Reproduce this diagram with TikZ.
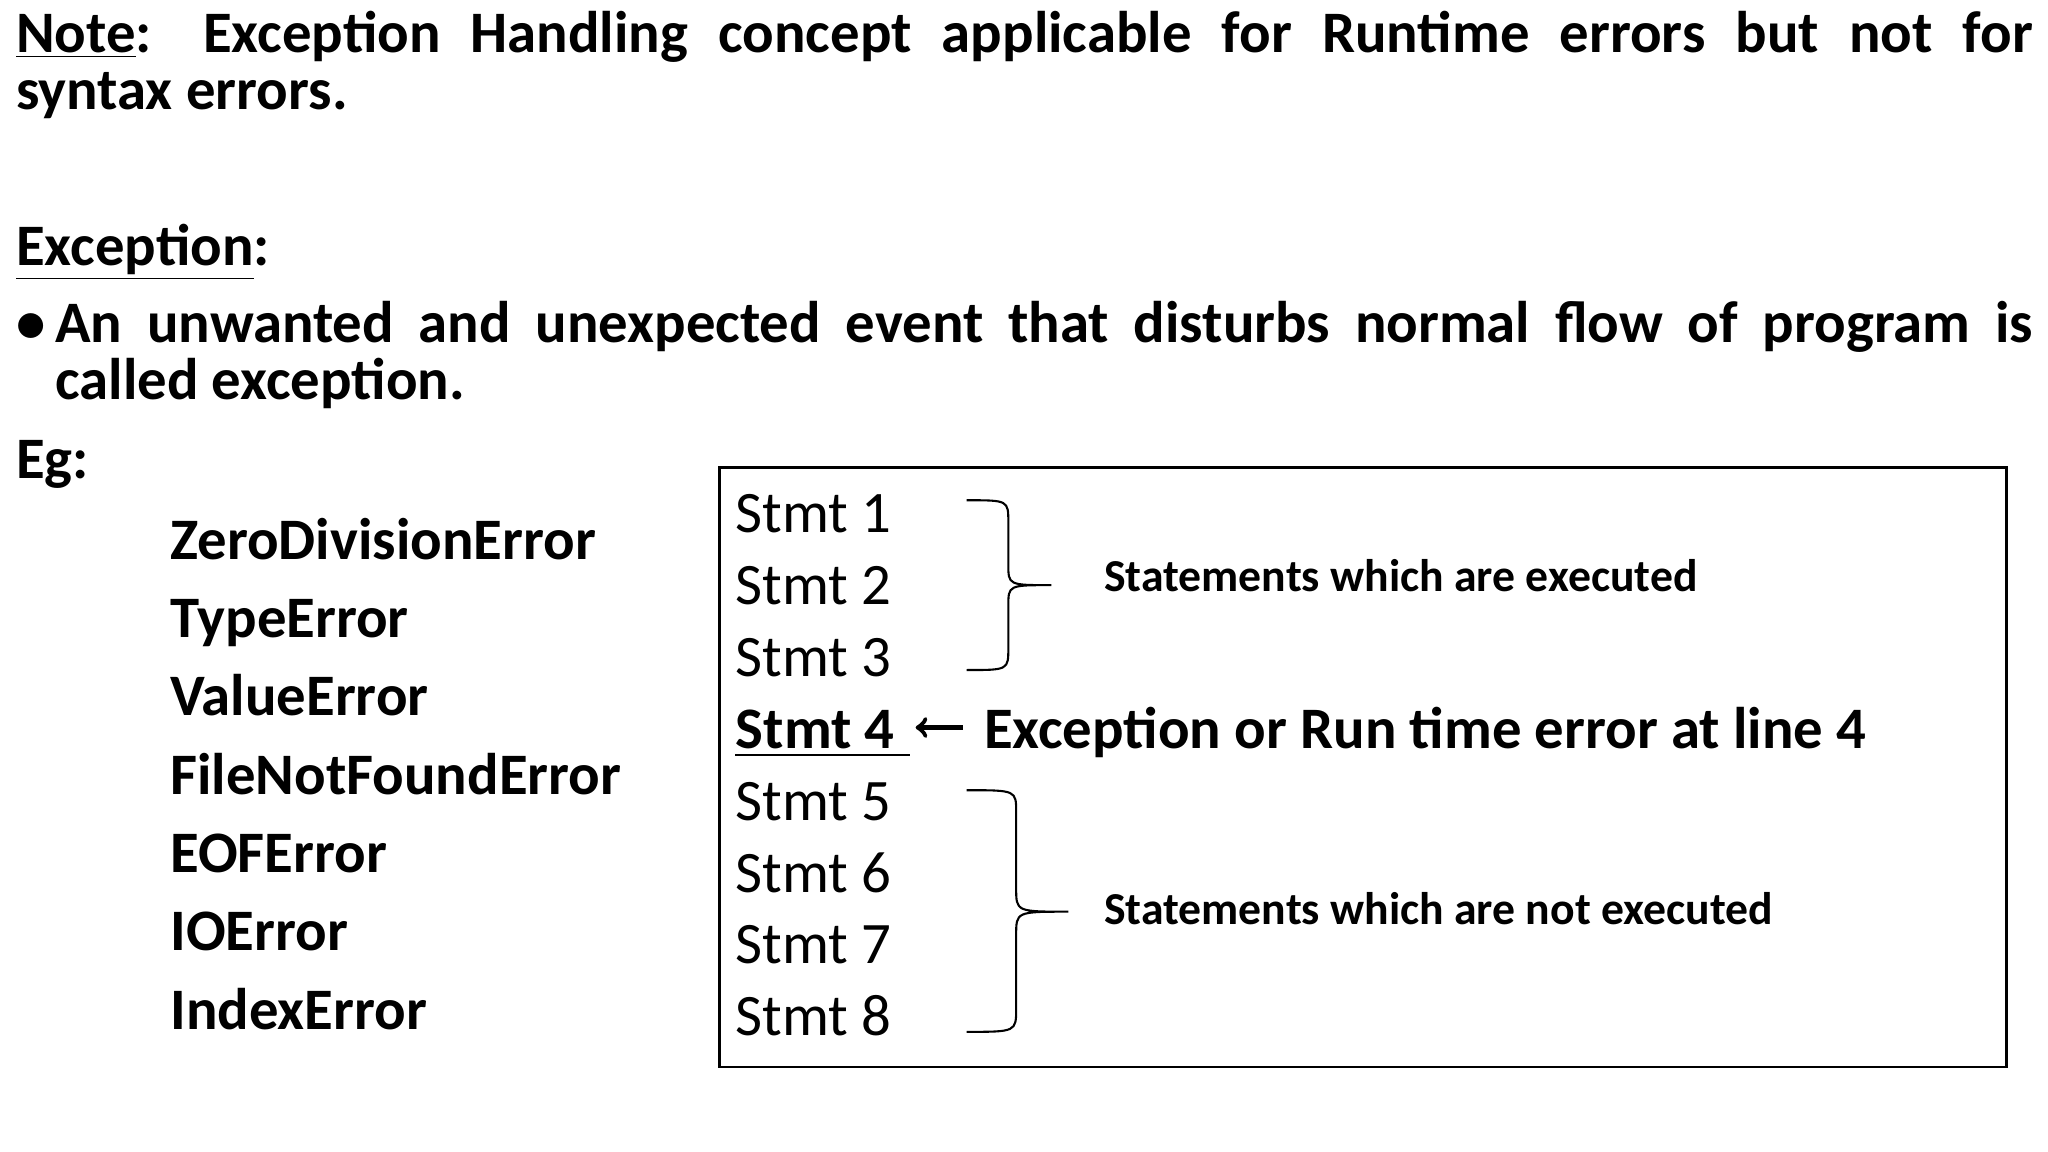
\documentclass[tikz,border=0pt]{standalone}
\usepackage{fontspec}
\setmainfont{Carlito}
\begin{document}
\begin{tikzpicture}[x=0.5pt,y=-0.5pt,
  txt/.style={anchor=base west,inner sep=0pt,font=\fontsize{22.5}{22.5}\selectfont\bfseries},
  stm/.style={anchor=base west,inner sep=0pt,font=\fontsize{22.5}{22.5}\selectfont},
  sm/.style={anchor=base west,inner sep=0pt,font=\fontsize{17.5}{17.5}\selectfont\bfseries}]
\useasboundingbox (0,0) rectangle (1568,882);
\node[txt] (n1) at (12,40) {\makebox[772pt][s]{\underline{Note}: Exception Handling concept applicable for Runtime errors but not for}};
\node[txt] (n2) at (12,84) {syntax errors.};
\node[txt] (ex) at (12,203) {\underline{Exception}:};
\node[txt] (b0) at (12,262) {\textbullet};
\node[txt] (b1) at (42,262) {\makebox[757pt][s]{An unwanted and unexpected event that disturbs normal flow of program is}};
\node[txt] (b2) at (42,306) {called exception.};
\node[txt] (eg) at (12,366) {Eg:};
\foreach \t [count=\i] in {ZeroDivisionError,TypeError,ValueError,FileNotFoundError,EOFError,IOError,IndexError}
  \node[txt] (e\i) at (130,{368+60*\i}) {\t};
\draw[line width=1pt] (551,358) rectangle (1536,817);
\foreach \i in {1,2,3,5,6,7,8}
  \node[stm] (s\i) at (563,{353+55*\i}) {Stmt \i};
\node[txt] (s4) at (563,573) {Stmt 4};
\draw[line width=1pt] (563,578) -- (697,578);
\node[txt] (m4) at (753,573) {Exception or Run time error at line 4};
\draw[line width=1.8pt,->] (737,557) -- (701,557);
\draw[line width=0.8pt] (740,383) .. controls (772,383) and (772,383) .. (772,400) -- (772,432) .. controls (772,448) .. (805,448) .. controls (772,448) .. (772,464) -- (772,496) .. controls (772,513) and (772,513) .. (740,513);
\draw[line width=0.8pt] (740,605) .. controls (778,605) and (778,605) .. (778,622) -- (778,680) .. controls (778,698) .. (818,698) .. controls (778,698) .. (778,716) -- (778,772) .. controls (778,790) and (778,790) .. (740,790);
\node[sm] (t1) at (845,453) {Statements which are executed};
\node[sm] (t2) at (845,708) {Statements which are not executed};
\end{tikzpicture}
\end{document}
